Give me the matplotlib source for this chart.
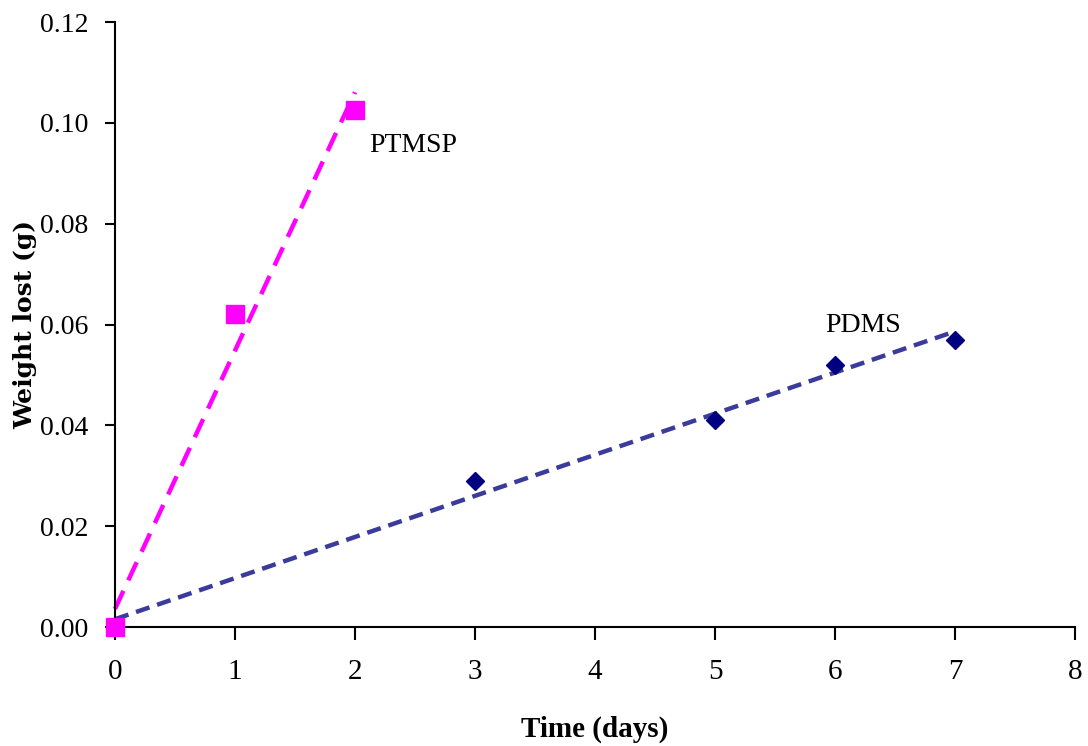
import matplotlib
matplotlib.use("Agg")
import matplotlib.pyplot as plt
import numpy as np

plt.rcParams['font.family'] = ['Liberation Serif', 'DejaVu Serif']

# weight loss measurements
ptmsp_days = [0, 1, 2]
ptmsp_loss = [0.0, 0.062, 0.1025]
pdms_days = [0, 3, 5, 6, 7]
pdms_loss = [0.0, 0.029, 0.041, 0.052, 0.057]

x_ticks = [0, 1, 2, 3, 4, 5, 6, 7, 8]
y_ticks = [0.00, 0.02, 0.04, 0.06, 0.08, 0.10, 0.12]

fig = plt.figure(figsize=(10.88, 7.46), dpi=100)
ax = fig.add_axes([0.1057, 0.1595, 0.8824, 0.811])

# linear trendlines
p1 = np.polyfit(ptmsp_days, ptmsp_loss, 1)
xs1 = np.array([min(ptmsp_days), max(ptmsp_days)])
ax.plot(xs1, np.polyval(p1, xs1), color='#FF00FF', lw=3.2, ls=(0, (4.5, 2.6)), zorder=2, clip_on=False)

p2 = np.polyfit(pdms_days, pdms_loss, 1)
xs2 = np.array([min(pdms_days), max(pdms_days)])
ax.plot(xs2, np.polyval(p2, xs2), color='#3B3B9B', lw=3.2, ls=(0, (3.2, 1.8)), zorder=2, clip_on=False)

ax.plot(pdms_days, pdms_loss, 'D', color='#000080', ms=9.5, zorder=3, clip_on=False)
ax.plot(ptmsp_days, ptmsp_loss, 's', color='#FF00FF', ms=13, zorder=4, clip_on=False)

ax.text(2.12, 0.0955, 'PTMSP', fontsize=20, va='center', ha='left')
ax.text(5.92, 0.0598, 'PDMS', fontsize=20, va='center', ha='left')

ax.set_xlim(0, 8)
ax.set_ylim(0, 0.12)
ax.set_xticks(x_ticks)
ax.set_yticks(y_ticks)
ax.set_xticklabels([str(t) for t in x_ticks])
ax.set_yticklabels(['%.2f' % t for t in y_ticks])

for s in ['top', 'right']:
    ax.spines[s].set_visible(False)
for s in ['left', 'bottom']:
    ax.spines[s].set_linewidth(1.5)
ax.tick_params(axis='x', length=9, width=1.5, labelsize=21, pad=14)
ax.tick_params(axis='y', length=7, width=1.5, labelsize=20, pad=12)

ax.set_xlabel('Time (days)', fontsize=21, fontweight='bold', labelpad=22)
ax.set_ylabel('Weight lost (g)', fontsize=18, fontweight='bold', labelpad=2,
              family=['DejaVu Serif'])

fig.savefig('out.png', dpi=100)
